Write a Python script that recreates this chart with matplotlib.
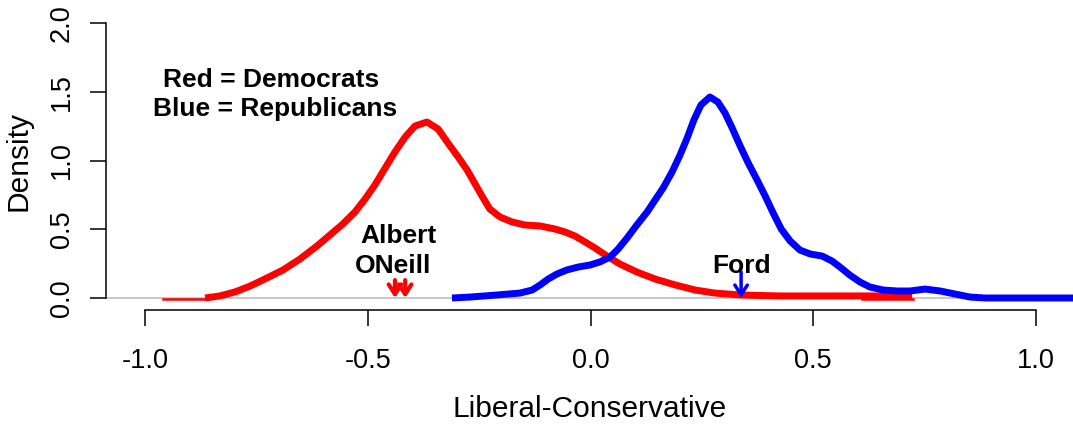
import matplotlib
matplotlib.use("Agg")
import matplotlib.pyplot as plt

plt.rcParams['font.family'] = ['Liberation Sans', 'DejaVu Sans']

# density of the Democrats (red)
dem_x = [-0.865, -0.832, -0.798, -0.764, -0.731, -0.690, -0.652, -0.614, -0.585, -0.556,
         -0.529, -0.506, -0.484, -0.461, -0.439, -0.416, -0.394, -0.367, -0.342, -0.320,
         -0.297, -0.277, -0.259, -0.241, -0.226, -0.203, -0.176, -0.147, -0.113, -0.080,
         -0.057, -0.035, -0.012, 0.010, 0.037, 0.066, 0.104, 0.145, 0.190, 0.235,
         0.279, 0.336, 0.425, 0.582, 0.722]
dem_y = [0.0, 0.015, 0.044, 0.087, 0.138, 0.204, 0.284, 0.378, 0.458, 0.538,
         0.625, 0.720, 0.822, 0.945, 1.062, 1.171, 1.251, 1.280, 1.229, 1.127,
         1.025, 0.931, 0.829, 0.727, 0.647, 0.589, 0.553, 0.531, 0.524, 0.502,
         0.480, 0.451, 0.407, 0.364, 0.305, 0.247, 0.189, 0.138, 0.095, 0.058,
         0.036, 0.022, 0.015, 0.015, 0.015]

# density of the Republicans (blue)
rep_x = [-0.311, -0.270, -0.210, -0.158, -0.131, -0.113, -0.095, -0.075, -0.053, -0.028,
         -0.001, 0.021, 0.044, 0.062, 0.082, 0.104, 0.127, 0.145, 0.163, 0.183,
         0.201, 0.217, 0.232, 0.248, 0.268, 0.286, 0.302, 0.318, 0.336, 0.354,
         0.374, 0.392, 0.410, 0.428, 0.448, 0.470, 0.493, 0.520, 0.542, 0.560,
         0.582, 0.605, 0.627, 0.657, 0.688, 0.717, 0.751, 0.785, 0.818, 0.852,
         0.886, 1.100]
rep_y = [0.0, 0.007, 0.022, 0.036, 0.058, 0.095, 0.138, 0.175, 0.204, 0.225,
         0.240, 0.262, 0.298, 0.356, 0.436, 0.531, 0.625, 0.713, 0.800, 0.916,
         1.040, 1.164, 1.295, 1.404, 1.462, 1.425, 1.345, 1.236, 1.105, 0.982,
         0.858, 0.742, 0.618, 0.502, 0.415, 0.349, 0.320, 0.305, 0.269, 0.225,
         0.167, 0.116, 0.080, 0.058, 0.051, 0.051, 0.065, 0.051, 0.029, 0.007,
         0.0, 0.0]

# thin red pieces at the tails
dem_tails = [(-0.960, -0.865), (0.609, 0.724)]

# arrows for the named members
dem_names_x = [-0.439, -0.416]
rep_names_x = [0.338]

fig = plt.figure(figsize=(10.73, 4.26), dpi=100)
ax = fig.add_axes([0.0988, 0.2723, 0.9012, 0.6995])

ax.axhline(0, color='#bebebe', lw=1.2, zorder=1)
for a, b in dem_tails:
    ax.plot([a, b], [-0.006, -0.006], color='red', lw=1.8, zorder=2)
ax.plot(dem_x, dem_y, color='red', lw=5, solid_capstyle='butt', zorder=3)
ax.plot(rep_x, rep_y, color='blue', lw=5, solid_capstyle='butt', zorder=3)

for x in dem_names_x:
    ax.annotate('', xy=(x, 0.0), xytext=(x, 0.13),
                arrowprops=dict(arrowstyle='->,head_length=0.7,head_width=0.45',
                                color='red', lw=3, shrinkA=0, shrinkB=0))
for x in rep_names_x:
    ax.annotate('', xy=(x, 0.0), xytext=(x, 0.19),
                arrowprops=dict(arrowstyle='->,head_length=0.7,head_width=0.45',
                                color='blue', lw=2.5, shrinkA=0, shrinkB=0))

ax.text(-0.43, 0.45, 'Albert', fontsize=19, fontweight='bold', ha='center', va='center')
ax.text(-0.443, 0.23, 'ONeill', fontsize=19, fontweight='bold', ha='center', va='center')
ax.text(0.338, 0.23, 'Ford', fontsize=19, fontweight='bold', ha='center', va='center')
ax.text(-0.717, 1.585, 'Red = Democrats', fontsize=19, fontweight='bold', ha='center', va='center')
ax.text(-0.708, 1.375, 'Blue = Republicans', fontsize=19, fontweight='bold', ha='center', va='center')

ax.set_xlim(-1.0875, 1.083)
ax.set_ylim(-0.0873, 2.08)
ax.set_xticks([-1.0, -0.5, 0.0, 0.5, 1.0])
ax.set_xticklabels(['-1.0', '-0.5', '0.0', '0.5', '1.0'])
ax.set_yticks([0.0, 0.5, 1.0, 1.5, 2.0])
ax.set_yticklabels(['0.0', '0.5', '1.0', '1.5', '2.0'], rotation=90, va='center')

for s in ['top', 'right']:
    ax.spines[s].set_visible(False)
ax.spines['left'].set_bounds(0, 2)
ax.spines['bottom'].set_bounds(-1, 1)
ax.spines['left'].set_linewidth(1.1)
ax.spines['bottom'].set_linewidth(1.1)
ax.tick_params(axis='both', length=11.5, width=1.1, labelsize=19.5)
ax.tick_params(axis='x', pad=16)
ax.tick_params(axis='y', pad=11)

ax.set_xlabel('Liberal-Conservative', fontsize=21.5)
ax.set_ylabel('Density', fontsize=21.5)
ax.xaxis.set_label_coords(0.5, -0.285)
ax.yaxis.set_label_coords(-0.0765, 0.5)

fig.savefig('out.png', dpi=100)
